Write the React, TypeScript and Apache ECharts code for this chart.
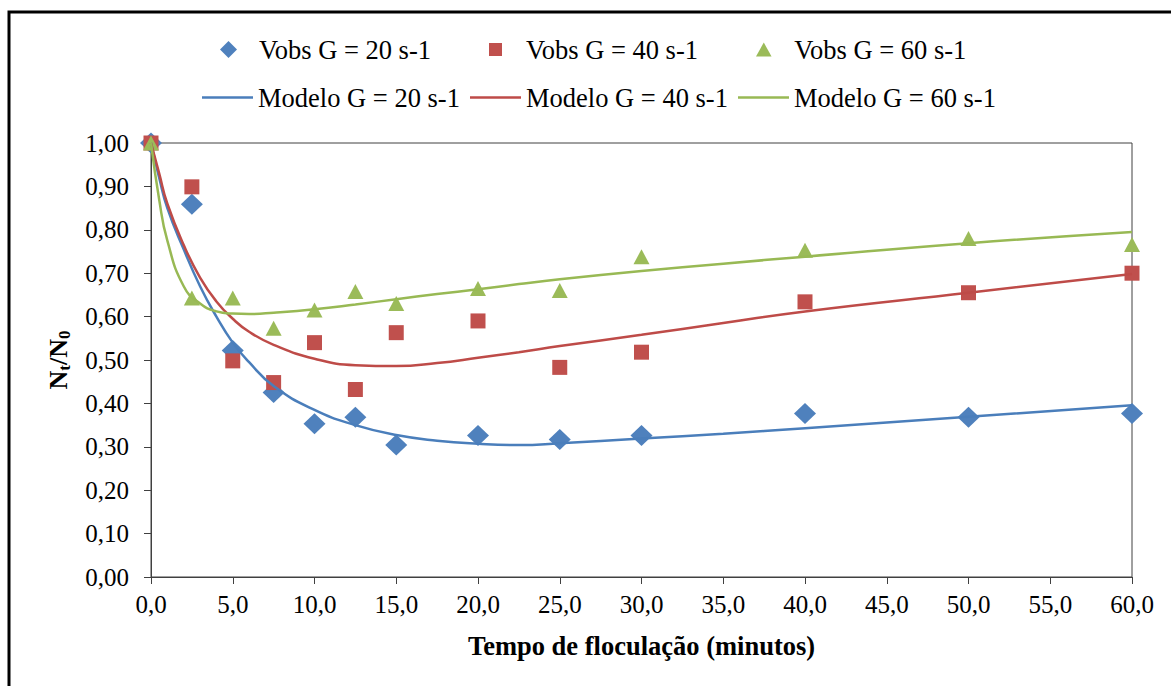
import React, { useEffect, useRef } from 'react';
import * as echarts from 'echarts';

const FONT = '"Liberation Serif", "Times New Roman", serif';

const seriesNames = [
  'Vobs G = 20 s-1',
  'Vobs G = 40 s-1',
  'Vobs G = 60 s-1',
  'Modelo G = 20 s-1',
  'Modelo G = 40 s-1',
  'Modelo G = 60 s-1',
];

const obsTime = [0, 2.5, 5, 7.5, 10, 12.5, 15, 20, 25, 30, 40, 50, 60];
const obs20 = [1.0, 0.859, 0.522, 0.425, 0.353, 0.368, 0.304, 0.326, 0.317, 0.326, 0.377, 0.368, 0.377];
const obs40 = [1.0, 0.899, 0.498, 0.448, 0.54, 0.432, 0.563, 0.59, 0.483, 0.518, 0.634, 0.655, 0.7];
const obs60 = [1.0, 0.643, 0.643, 0.573, 0.615, 0.658, 0.63, 0.665, 0.66, 0.738, 0.753, 0.78, 0.766];

const modelTime = [0, 0.5, 1, 2, 3, 4, 5, 6, 7.5, 10, 12.5, 15, 17.5, 20, 22.5, 25, 30, 35, 40, 50, 60];
const model20 = [1.0, 0.92, 0.85, 0.755, 0.67, 0.6, 0.54, 0.495, 0.44, 0.385, 0.35, 0.327, 0.314, 0.307, 0.304, 0.308, 0.319, 0.33, 0.343, 0.369, 0.396];
const model40 = [1.0, 0.93, 0.86, 0.765, 0.69, 0.635, 0.595, 0.565, 0.535, 0.503, 0.488, 0.486, 0.493, 0.505, 0.518, 0.532, 0.558, 0.585, 0.612, 0.655, 0.698];
const model60 = [1.0, 0.87, 0.775, 0.67, 0.63, 0.612, 0.607, 0.606, 0.609, 0.617, 0.628, 0.64, 0.652, 0.663, 0.675, 0.686, 0.705, 0.722, 0.738, 0.769, 0.795];

const COLORS = ['#4F81BD', '#C0504D', '#9BBB59'];
const LINE_COLORS = ['#4A7EBB', '#BE4B48', '#98B954'];

const pair = (xs: number[], ys: number[]) => xs.map((x, i) => [x, ys[i]]);

export default function App() {
  const ref = useRef<HTMLDivElement>(null);
  useEffect(() => {
    document.body.style.margin = '0';
    const chart = echarts.init(ref.current!, null, { renderer: 'svg' });
    const tickText = { fontFamily: FONT, fontSize: 25, color: '#000' };
    const legendText = { fontFamily: FONT, fontSize: 26.5, color: '#000' };
    const legendBase = {
      orient: 'horizontal',
      padding: 0,
      itemWidth: 51,
      selectedMode: false,
      textStyle: legendText,
    };
    const obsLegendLefts = [220, 489, 756];
    const modelLegendLefts = [202, 470, 738];
    const symbols = ['diamond', 'rect', 'triangle'];
    const legendIcons = [
      'path://M0,-1L1,0L0,1L-1,0Z',
      'path://M0,0L1,0L1,1L0,1Z',
      'path://M0.5,0L1,0.9L0,0.9Z',
    ];
    const obsIconSizes = [17, 13, 14];
    const legends = [
      ...obsLegendLefts.map((l, i) => ({
        ...legendBase,
        left: l,
        top: 36,
        itemHeight: obsIconSizes[i],
        symbolKeepAspect: true,
        data: [{ name: seriesNames[i], icon: legendIcons[i] }],
      })),
      ...modelLegendLefts.map((l, i) => ({
        ...legendBase,
        left: l,
        top: 84,
        itemHeight: 2.5,
        symbolKeepAspect: false,
        data: [{ name: seriesNames[i + 3], icon: 'rect' }],
      })),
    ];
    const obsData = [obs20, obs40, obs60];
    const modelData = [model20, model40, model60];
    const symbolSizes = [[22, 21], 15, [16, 15]];
    const option = {
      animation: false,
      backgroundColor: '#fff',
      textStyle: { fontFamily: FONT },
      legend: legends,
      graphic: [
        {
          type: 'rect',
          shape: { x: 9, y: 12, width: 1300, height: 800 },
          style: { fill: 'none', stroke: '#000', lineWidth: 3 },
          silent: true,
          z: -1,
        },
      ],
      grid: {
        left: 151,
        right: 39,
        top: 143,
        bottom: 109,
        show: true,
        borderColor: '#404040',
        borderWidth: 1,
        backgroundColor: 'transparent',
      },
      xAxis: {
        type: 'value',
        min: 0,
        max: 60,
        interval: 5,
        name: 'Tempo de floculação (minutos)',
        nameLocation: 'middle',
        nameGap: 55,
        nameTextStyle: { fontFamily: FONT, fontSize: 26.5, fontWeight: 'bold', color: '#000' },
        axisLine: { onZero: false, lineStyle: { color: '#404040', width: 1 } },
        axisTick: { show: true, length: 7, lineStyle: { color: '#404040' } },
        axisLabel: {
          ...tickText,
          margin: 15,
          formatter: (v: number) => v.toFixed(1).replace('.', ','),
        },
        splitLine: { show: false },
      },
      yAxis: {
        type: 'value',
        min: 0,
        max: 1,
        interval: 0.1,
        name: '{n|N}{s|t}{n|/N}{s|0}',
        nameLocation: 'middle',
        nameRotate: 90,
        nameGap: 78,
        nameTextStyle: {
          rich: {
            n: { fontFamily: FONT, fontSize: 26, fontWeight: 'bold', color: '#000', verticalAlign: 'middle', lineHeight: 30 },
            s: { fontFamily: FONT, fontSize: 17, fontWeight: 'bold', color: '#000', verticalAlign: 'bottom', lineHeight: 17 },
          },
        },
        axisLine: { show: true, onZero: false, lineStyle: { color: '#404040', width: 1 } },
        axisTick: { show: true, length: 7, lineStyle: { color: '#404040' } },
        axisLabel: {
          ...tickText,
          margin: 22,
          formatter: (v: number) => v.toFixed(2).replace('.', ','),
        },
        splitLine: { show: false },
      },
      series: [
        ...[0, 1, 2].map((i) => ({
          name: seriesNames[i],
          type: 'scatter',
          symbol: symbols[i],
          symbolSize: symbolSizes[i],
          itemStyle: { color: COLORS[i], opacity: 1 },
          data: pair(obsTime, obsData[i]),
          z: 2,
        })),
        ...[0, 1, 2].map((i) => ({
          name: seriesNames[i + 3],
          type: 'line',
          symbol: 'none',
          smooth: 0.5,
          lineStyle: { color: LINE_COLORS[i], width: 2.5 },
          itemStyle: { color: LINE_COLORS[i] },
          data: pair(modelTime, modelData[i]),
          z: 3,
        })),
      ],
    };
    chart.setOption(option as any);
    return () => chart.dispose();
  }, []);
  return <div ref={ref} style={{ width: 1171, height: 686 }} />;
}
